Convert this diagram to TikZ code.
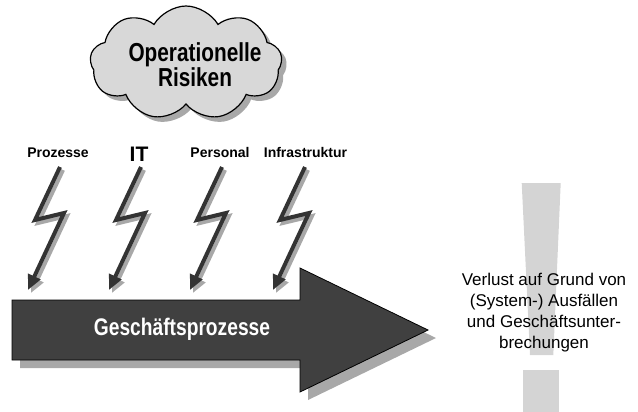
\documentclass[tikz,border=0pt]{standalone}
\usepackage{fontspec}
\setmainfont{Liberation Sans}
\newfontfamily\narrowfont{Liberation Sans}[FakeStretch=0.8]
\usepackage{tikz}
\usepackage{xcolor}
\usetikzlibrary{arrows.meta,shapes.symbols,shadows}
\definecolor{boltgray}{HTML}{333333}
\definecolor{arrowgray}{HTML}{404040}
\definecolor{cloudgray}{HTML}{D8D8D8}
\definecolor{shadegray}{HTML}{A8A8A8}
\definecolor{markgray}{HTML}{D4D4D4}
\tikzset{%
  tipA/.tip={Triangle[width=13bp,length=15bp]},
  boltline/.style={line width=4bp, line join=miter, -tipA},
  riskcloud/.style={cloud, cloud puffs=9, cloud puff arc=120, draw, line width=1.2bp,
    fill=cloudgray, minimum width=192bp, minimum height=114bp, inner sep=0pt,
    drop shadow={shadow xshift=5bp, shadow yshift=-5bp, fill=shadegray, opacity=1}},
  sourcelabel/.style={anchor=base, inner sep=0pt, font=\bfseries\fontsize{14bp}{16bp}\selectfont}
}

\begin{document}
\begin{tikzpicture}[x=1bp,y=-1bp]
\useasboundingbox (0,0) rectangle (638,411);

% Ausrufezeichen im Hintergrund
\fill[markgray] (521.7,183)--(560.7,183)--(553.3,355)--(530,355)--cycle;
\fill[markgray] (522.7,370) rectangle (559.3,412);

% Wolke
\node[riskcloud] (cloud) at (186,63) {};
\node[align=center, inner sep=0pt, font=\narrowfont\bfseries\fontsize{26bp}{25bp}\selectfont]
  (risk) at (195,64.5) {Operationelle\\Risiken};

% Quellen
\node[sourcelabel] (proc) at (58,157) {Prozesse};
\node[sourcelabel, font=\bfseries\fontsize{21bp}{23bp}\selectfont] (it) at (139,161.5) {IT};
\node[sourcelabel] (pers) at (220,157) {Personal};
\node[sourcelabel] (infra) at (305.5,157) {Infrastruktur};

% Blitze
\foreach \dx in {0,81,162,245}{
  \draw[boltline, color=shadegray] (60+\dx+3,167+3)--(35+\dx+3,220+3)--(64+\dx+3,213+3)--(28+\dx+3,290+3);
  \draw[boltline, color=boltgray] (60+\dx,167)--(35+\dx,220)--(64+\dx,213)--(28+\dx,290);
}

% Pfeil
\fill[shadegray] (20,308)--(308,308)--(308,276)--(436,338)--(308,400)--(308,368)--(20,368)--cycle;
\filldraw[fill=arrowgray, draw=black, line width=0.8bp]
  (12,300)--(300,300)--(300,268)--(428,330)--(300,392)--(300,360)--(12,360)--cycle;
\node[anchor=base, inner sep=0pt, text=white, font=\narrowfont\bfseries\fontsize{24bp}{26bp}\selectfont]
  (gp) at (182,335) {Geschäftsprozesse};

% Folge
\node[align=center, inner sep=0pt, font=\fontsize{17bp}{21bp}\selectfont] (loss) at (544,312.5)
  {Verlust auf Grund von\\(System-) Ausfällen\\und Geschäftsunter-\\brechungen};
\end{tikzpicture}
\end{document}
